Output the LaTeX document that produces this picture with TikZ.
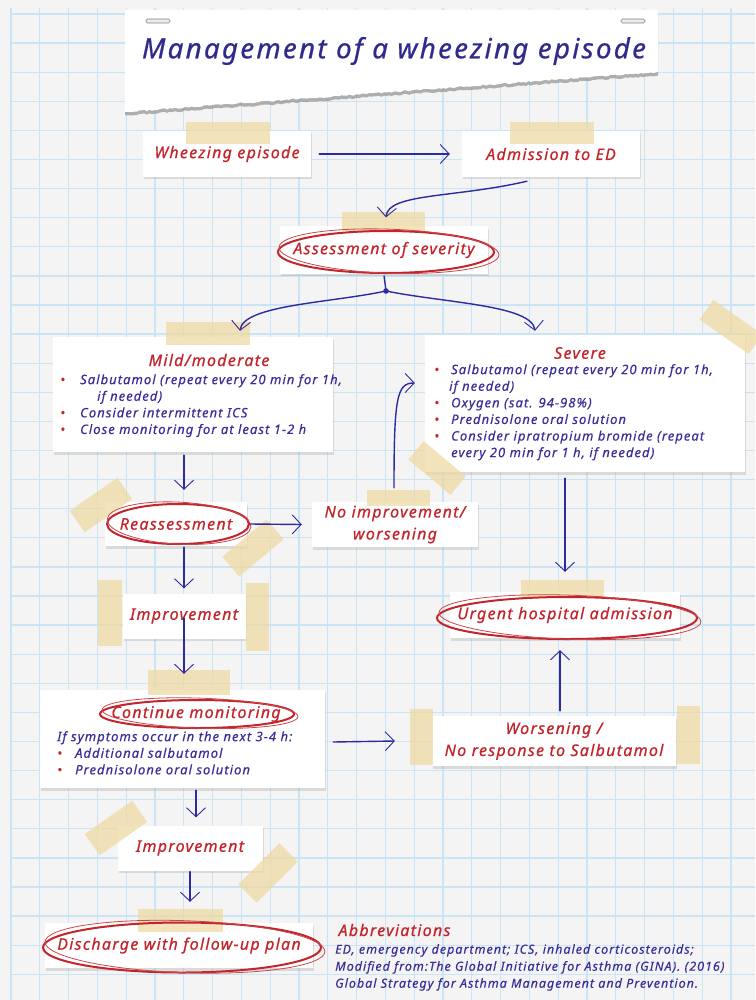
\documentclass[tikz,border=0pt]{standalone}
\usepackage{fontspec}
\setmainfont{Noto Sans}
\newfontfamily\hand{Noto Sans}[LetterSpace=8,FakeBold=0.6]
\newfontfamily\handl{Noto Sans}[LetterSpace=8,FakeBold=0.3]
\usetikzlibrary{arrows.meta,shadows,calc,decorations.pathmorphing}
\definecolor{gridc}{HTML}{CBE4F5}
\definecolor{paperc}{HTML}{F4F4F4}
\definecolor{redt}{HTML}{C2252C}
\definecolor{bluet}{HTML}{3A2F99}
\definecolor{arrc}{HTML}{2E2A9F}
\definecolor{tapec}{HTML}{EFD9A0}
\definecolor{titlec}{HTML}{2F2A8C}
\newcommand{\bl}[1][20pt]{\makebox[#1][l]{\textcolor{redt}{\textbullet}}}
\begin{document}
\begin{tikzpicture}[x=1pt,y=-1pt,
  card/.style={fill=white, drop shadow={opacity=0.22,shadow xshift=1pt,shadow yshift=-2.5pt}, inner sep=0pt},
  tape/.style={fill=tapec, fill opacity=0.72, inner sep=0pt},
  lbl/.style={font=\hand\itshape\fontsize{16}{22}\selectfont, text=redt, align=center},
  hdr/.style={font=\hand\itshape\fontsize{16}{19}\selectfont, text=redt},
  lst/.style={font=\handl\itshape\fontsize{13}{16.6}\selectfont, text=bluet, align=left, inner sep=0pt},
  arr/.style={draw=arrc, line width=1.4pt, line cap=round, -{Straight Barb[length=9pt,width=19pt,line width=0.9pt]}},
  ring/.style={draw=redt, line width=2pt},
  ring2/.style={draw=redt!85!white, line width=0.8pt},
  gridl/.style={draw=gridc, line width=1.3pt},
  clipbar/.style={draw=gray, fill=gray!15, line width=0.6pt, rounded corners=1.5pt, minimum width=24pt, minimum height=4pt, inner sep=0pt},
]
\useasboundingbox (0,0) rectangle (755,1000);
\fill[paperc] (0,0) rectangle (755,1000);
\foreach \i in {0,...,26} \draw[gridl] ({11+28.8*\i},8) -- ({11+28.8*\i},1000);
\foreach \j in {0,...,34} \draw[gridl] (11,{14+29.1*\j}) -- (755,{14+29.1*\j});

% title paper
\fill[white, drop shadow={opacity=0.6,shadow xshift=0pt,shadow yshift=-3.5pt}] (125,10) -- (658,10) -- (658,72)
  decorate[decoration={random steps,segment length=2.5pt,amplitude=0.8pt}]{-- (125,112)} -- cycle;
\node[clipbar] (clipL) at (158,21) {};
\node[clipbar] (clipR) at (633,21) {};
\node[font=\hand\itshape\fontsize{27.8}{30}\selectfont, text=titlec] (title) at (394,51) {Management of a wheezing episode};

% top row
\node[card,lbl,minimum width=168,minimum height=46] (wheeze) at (227,154) {Wheezing episode};
\node[tape,minimum width=84,minimum height=22] (tw) at (228,133) {};
\node[card,lbl,minimum width=178,minimum height=46] (adm) at (551,154) {Admission to ED};
\node[tape,minimum width=84,minimum height=22] (ta) at (552,133) {};
\draw[arr] ([xshift=8pt]wheeze.east) -- ([xshift=-12pt]adm.west);

% assessment
\node[card,lbl,minimum width=208,minimum height=47] (assess) at (384,250) {Assessment of severity};
\node[tape,minimum width=83,minimum height=19] (tas) at (383,222) {};
\draw[ring] ($(assess.center)+(2,2)$) ellipse [x radius=108, y radius=21];
\draw[ring2, rotate around={-2:(assess.center)}] ($(assess.center)+(5,1)$) ellipse [x radius=110, y radius=22];
\draw[arr] ([xshift=-24pt,yshift=-4pt]adm.south) .. controls (455,198) and (388,193) .. ([xshift=2pt,yshift=9pt]assess.north);

% split
\coordinate (split) at (386,291);
\draw[arrc, line width=1.4pt] ([yshift=-2pt]assess.south) -- (split);
\fill[arrc] (split) circle (2.8);

% mild
\node[card,minimum width=280,minimum height=115] (mild) at (193,394.5) {};
\node[tape,minimum width=84,minimum height=23] (tm) at (208,333) {};
\node[hdr] (mildT) at (209,360) {Mild/moderate};
\node[lst,anchor=north west] (mildL) at (60,374) {\bl Salbutamol (repeat every 20 min for 1h,\\\hspace*{37pt}if needed)\\\bl Consider intermittent ICS\\\bl Close monitoring for at least 1-2 h};

% severe
\node[card,minimum width=320,minimum height=137] (severe) at (585,403.5) {};
\node[tape,minimum width=60,minimum height=24,rotate=-35] (ts1) at (731,327) {};
\node[tape,minimum width=55,minimum height=24,rotate=-40] (ts2) at (437,468) {};
\node[hdr] (sevT) at (580,353) {Severe};
\node[lst,anchor=north west] (sevL) at (434,364) {\bl[17pt]Salbutamol (repeat every 20 min for 1h,\\\hspace*{15pt}if needed)\\\bl[17pt]Oxygen (sat. 94-98\%)\\\bl[17pt]Prednisolone oral solution\\\bl[17pt]Consider ipratropium bromide (repeat\\\hspace*{17pt}every 20 min for 1 h, if needed)};

\draw[arr] (split) .. controls (330,303) and (243,305) .. ([xshift=47pt,yshift=6pt]mild.north);
\draw[arr] (split) .. controls (445,303) and (532,305) .. ([xshift=-50pt,yshift=4pt]severe.north);

% reassessment
\node[card,lbl,minimum width=142,minimum height=44] (reas) at (176,524) {Reassessment};
\node[tape,minimum width=58,minimum height=26,rotate=35] (tr1) at (101,505) {};
\node[tape,minimum width=58,minimum height=26,rotate=40] (tr2) at (253,548) {};
\draw[ring] ($(reas.center)+(2,0)$) ellipse [x radius=71, y radius=20];
\draw[ring2, rotate around={-3:(reas.center)}] ($(reas.center)+(3,-1)$) ellipse [x radius=72, y radius=21];
\draw[arr] ([xshift=-9pt,yshift=-3pt]mild.south) -- ([xshift=8pt,yshift=12pt]reas.north);

% no improvement
\node[card,lbl,minimum width=166,minimum height=45] (noimp) at (395,524.5) {No improvement/\\worsening};
\node[tape,minimum width=63,minimum height=16] (tn) at (398,498) {};
\draw[arr] ([xshift=3pt]reas.east) -- ([xshift=-10pt]noimp.west);
\draw[arr] ([xshift=-1pt,yshift=14pt]noimp.north) .. controls +(0,-90) and +(-18,0) .. ([xshift=-10pt,yshift=20.5pt]severe.west);

% urgent
\node[card,lbl,minimum width=230,minimum height=46] (urgent) at (565,615) {Urgent hospital admission};
\node[tape,minimum width=83,minimum height=18] (tu) at (562,589) {};
\draw[ring] ($(urgent.center)+(2,3)$) ellipse [x radius=130, y radius=21];
\draw[ring2, rotate around={-2:(urgent.center)}] ($(urgent.center)+(5,2)$) ellipse [x radius=131, y radius=22];
\draw[arr] ([xshift=-20pt,yshift=-6pt]severe.south) -- ([yshift=20pt]urgent.north);

% improvement 1
\node[card,lbl,minimum width=123,minimum height=45] (imp1) at (184,616) {Improvement};
\node[tape,minimum width=24,minimum height=66] (ti1) at (110,613) {};
\node[tape,minimum width=23,minimum height=68] (ti2) at (257,617) {};
\draw[arr] ([xshift=8pt,yshift=-1pt]reas.south) -- ([yshift=5pt]imp1.north);

% continue monitoring
\node[card,minimum width=285,minimum height=98] (cont) at (182.5,739) {};
\node[tape,minimum width=82,minimum height=25] (tc) at (189,682) {};
\node[lbl] (contT) at (196,714) {Continue monitoring};
\draw[ring] ($(contT.center)+(1,0)$) ellipse [x radius=97, y radius=14];
\draw[ring2, rotate around={-2:(contT.center)}] ($(contT.center)+(4,-1)$) ellipse [x radius=98, y radius=15];
\node[lst,anchor=north west] (contL) at (57,731) {If symptoms occur in the next 3-4 h:\\\bl[18pt]Additional salbutamol\\\bl[18pt]Prednisolone oral solution};
\draw[arr] ([yshift=-2pt]imp1.center) -- ([xshift=1.5pt,yshift=16pt]cont.north);

% worsening
\node[card,lbl,minimum width=244,minimum height=50] (worse) at (554,741) {Worsening /\\No response to Salbutamol};
\node[tape,minimum width=23,minimum height=56] (tw1) at (421,737) {};
\node[tape,minimum width=23,minimum height=58] (tw2) at (688,735) {};
\draw[arr] ([xshift=8pt,yshift=-3pt]cont.east) -- ([xshift=-37pt]worse.west);
\draw[arr] ([xshift=6pt,yshift=5pt]worse.north) -- ([xshift=-5pt,yshift=-12pt]urgent.south);

% improvement 2
\node[card,lbl,minimum width=145,minimum height=45] (imp2) at (190,848) {Improvement};
\node[tape,minimum width=58,minimum height=26,rotate=35] (tj1) at (116,828) {};
\node[tape,minimum width=58,minimum height=26,rotate=45] (tj2) at (268,873) {};
\draw[arr] ([xshift=13.5pt,yshift=-2pt]cont.south) -- ([xshift=6pt,yshift=8pt]imp2.north);

% discharge
\node[card,lbl,minimum width=268,minimum height=45] (dis) at (179,945.5) {Discharge with follow-up plan};
\node[tape,minimum width=85,minimum height=23] (td) at (180,920) {};
\draw[ring] ($(dis.center)+(3,2)$) ellipse [x radius=139, y radius=25];
\draw[ring2, rotate around={-2:(dis.center)}] ($(dis.center)+(6,1)$) ellipse [x radius=140, y radius=26];
\draw[arr] ([yshift=-1pt]imp2.south) -- ([xshift=11pt,yshift=21pt]dis.north);

% abbreviations
\node[hdr,anchor=west] (abbT) at (335,930) {Abbreviations};
\node[lst,anchor=north west,font=\handl\itshape\fontsize{12.5}{17}\selectfont] (abbL) at (335,944) {ED, emergency department; ICS, inhaled corticosteroids;\\Modified from:The Global Initiative for Asthma (GINA). (2016)\\Global Strategy for Asthma Management and Prevention.};
\end{tikzpicture}
\end{document}
